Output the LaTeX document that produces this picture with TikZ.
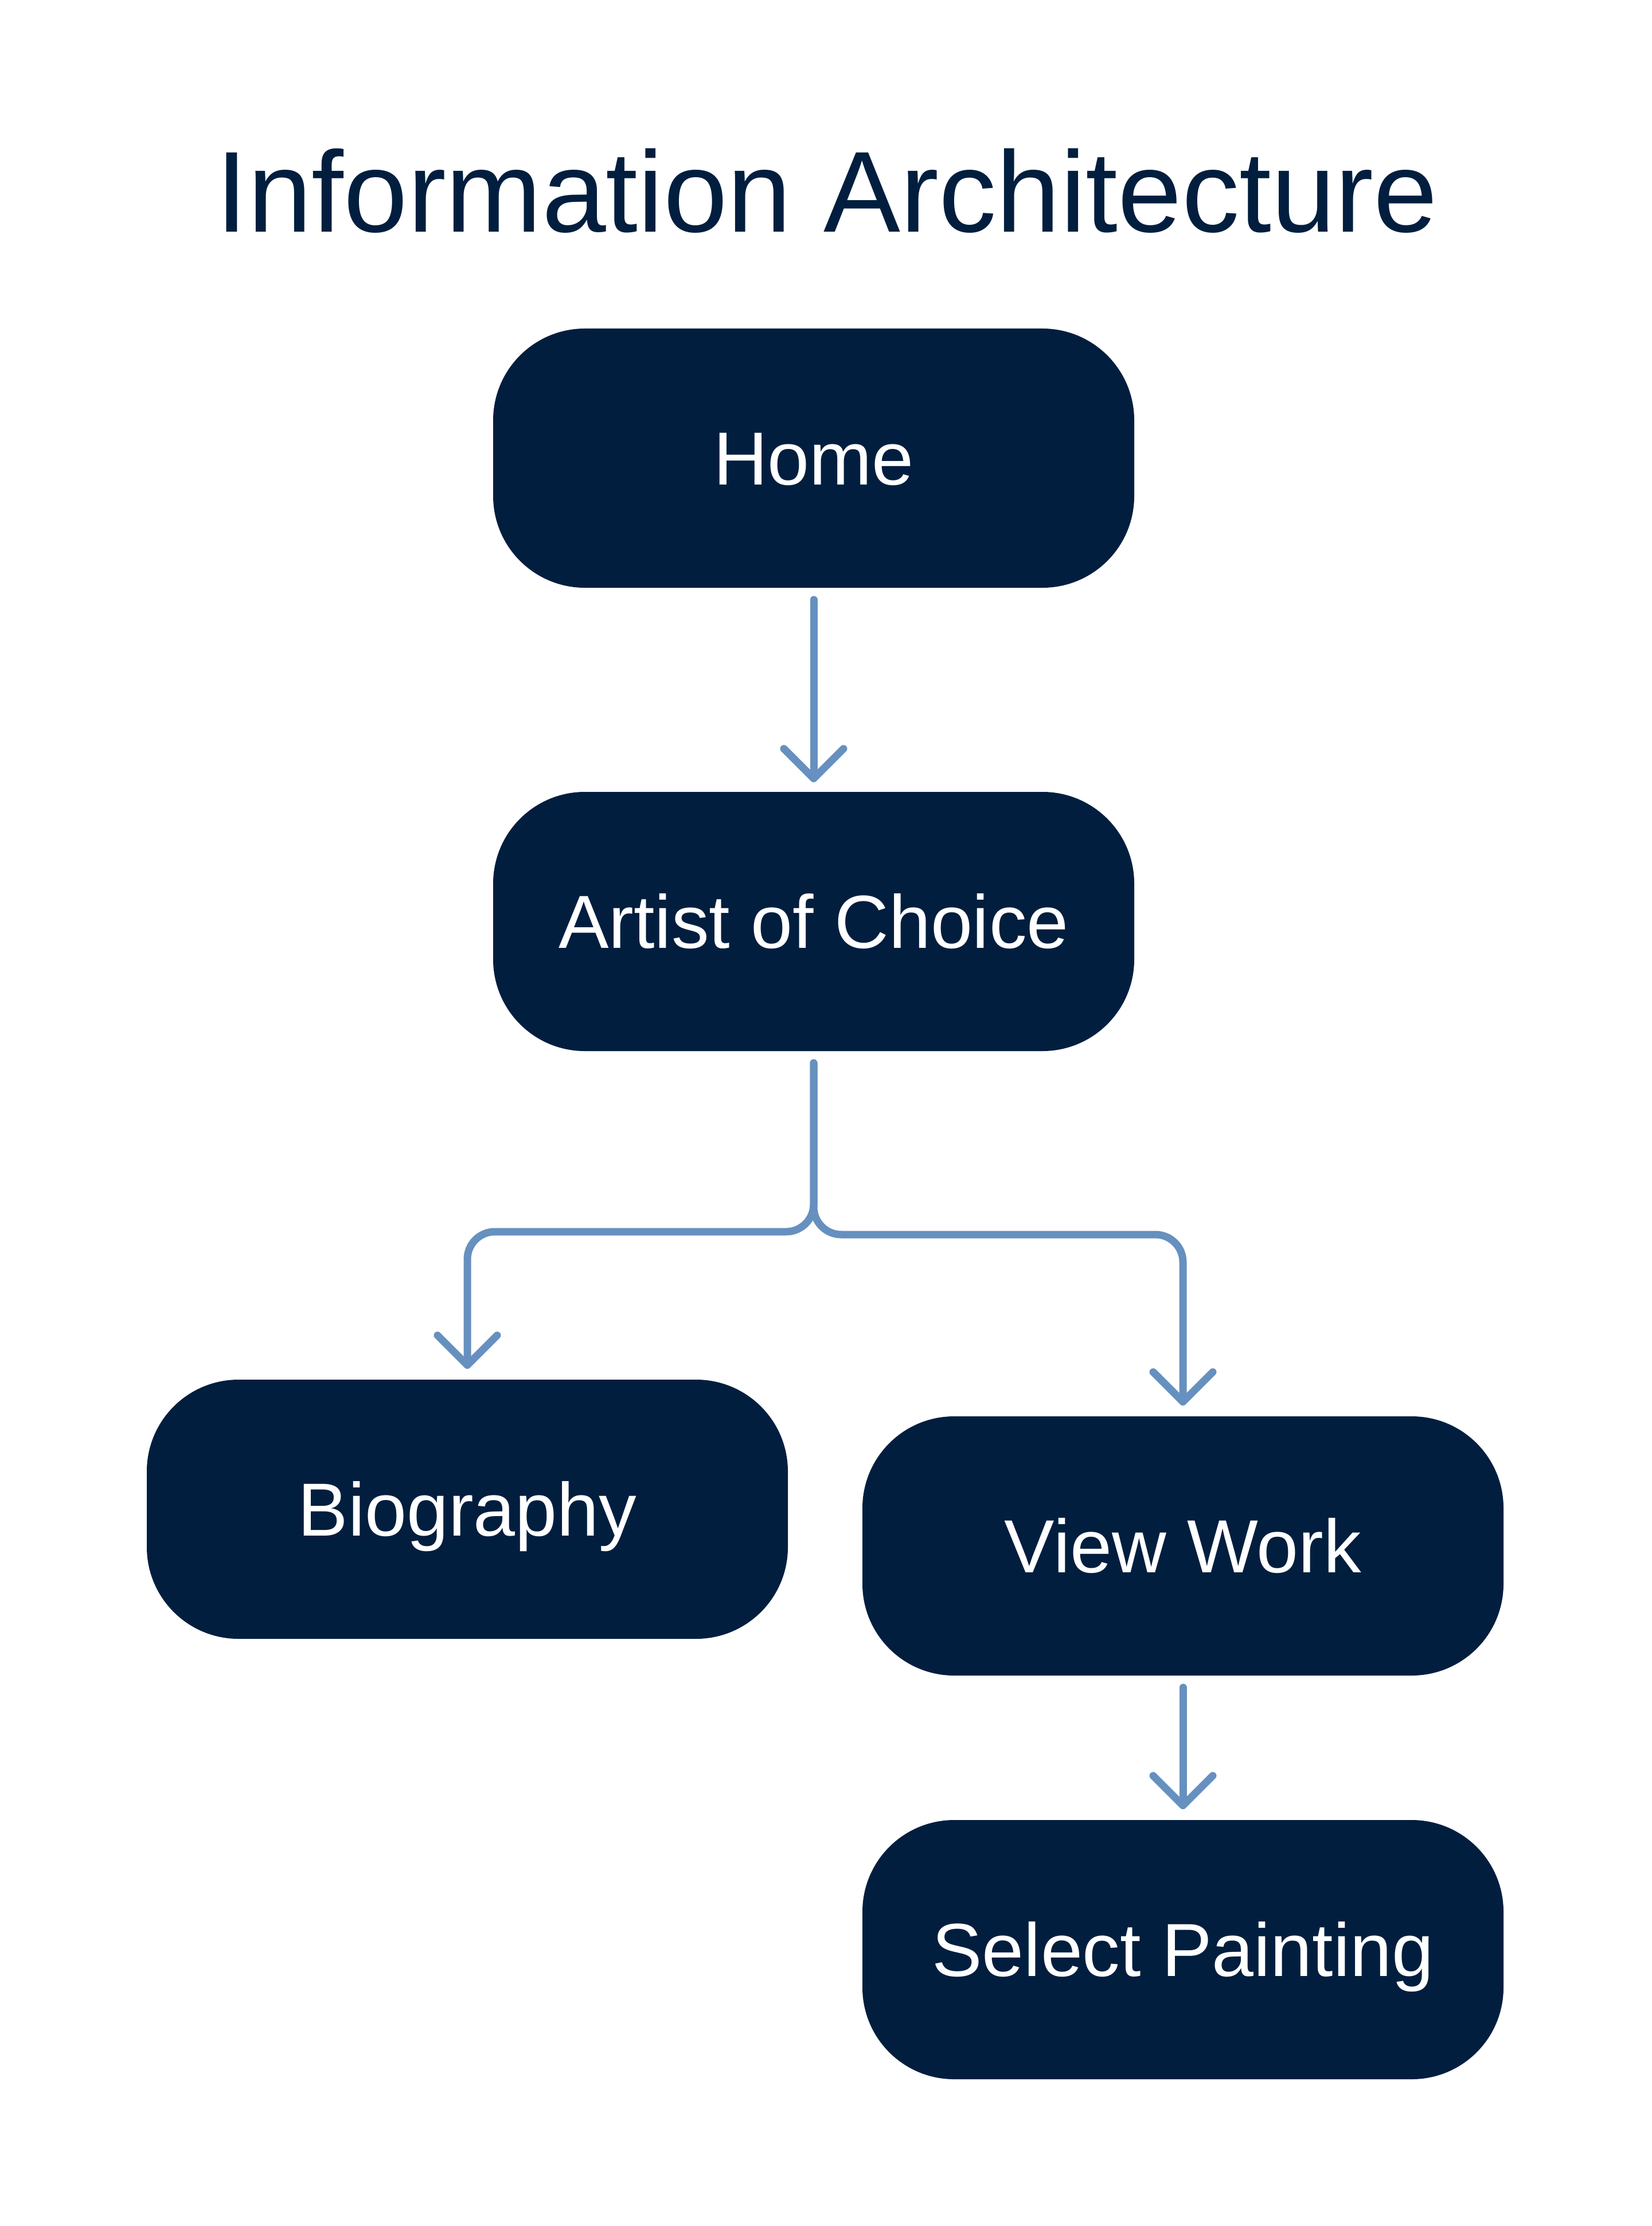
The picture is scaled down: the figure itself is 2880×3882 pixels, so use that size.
\documentclass[tikz,border=0pt]{standalone}
\usepackage{fontspec}
\setmainfont{Liberation Sans}
\usetikzlibrary{arrows.meta}
\definecolor{navy}{HTML}{021E3F}
\definecolor{link}{HTML}{6690BF}
\begin{document}
\begin{tikzpicture}[x=0.25pt,y=-0.25pt,
  box/.style={draw=none, fill=navy, rounded corners=40pt, minimum width=279.5pt,
    minimum height=113pt, inner sep=0pt, text=white,
    font=\fontsize{32.8}{39}\selectfont, text height=23.25pt, text depth=0pt},
  conn/.style={draw=link, line width=3.25pt, line cap=round, line join=round,
    rounded corners=12pt, -{Straight Barb[length=13pt,width=26pt,round]}},
  titlestyle/.style={text=navy, font=\fontsize{50.2}{60}\selectfont, inner sep=0pt, anchor=base}]
\fill[white] (0,0) rectangle (2880,3882);
\useasboundingbox (0,0) rectangle (2880,3882);

\node[titlestyle] (title) at (1442,405) {Information Architecture};

\node[box] (home)   at (1419,799)  {Home};
\node[box] (artist) at (1419,1607) {Artist of Choice};
\node[box] (bio)    at (815,2632)  {Biography};
\node[box] (view)   at (2063,2696) {View Work};
\node[box] (select) at (2063,3400) {Select Painting};

\coordinate (bl) at (815,2148);
\coordinate (br) at (2063,2153);

\draw[conn] ([yshift=-5pt]home.south) -- ([yshift=4pt]artist.north);
\draw[conn] ([yshift=-5pt]artist.south) -- (artist.south |- bl) -- (bl) -- ([yshift=4.5pt]bio.north);
\draw[conn] ([yshift=-5pt]artist.south) -- (artist.south |- br) -- (br) -- ([yshift=4.5pt]view.north);
\draw[conn] ([yshift=-5pt]view.south) -- ([yshift=4.5pt]select.north);
\end{tikzpicture}
\end{document}
